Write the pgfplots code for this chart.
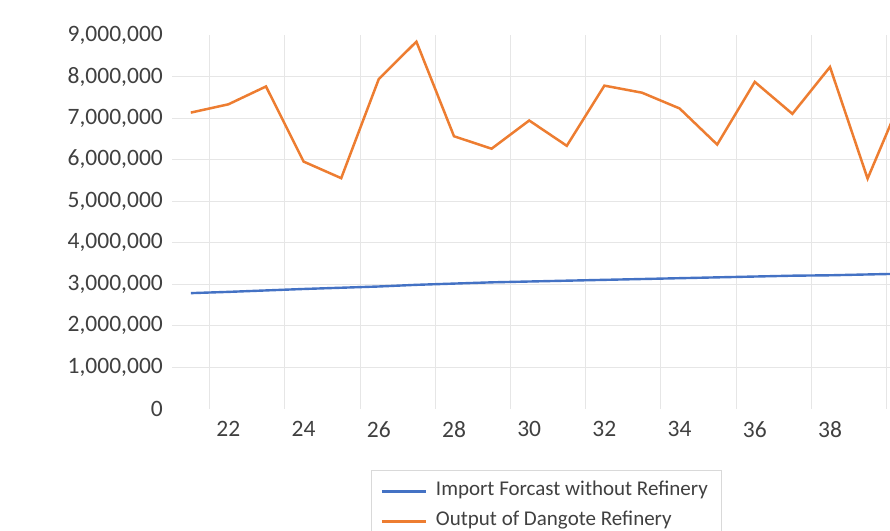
\documentclass[border=0pt]{standalone}
\usepackage{fontspec}
\setmainfont{Carlito}
\usepackage{pgfplots}
\pgfplotsset{compat=1.18}
\definecolor{xlblue}{HTML}{4472C4}
\definecolor{xlorange}{HTML}{ED7D31}
\definecolor{gridc}{HTML}{E6E6E6}
\definecolor{legc}{HTML}{D9D9D9}
\definecolor{txt}{HTML}{404040}
\begin{document}
\begin{tikzpicture}
\useasboundingbox (-172bp,-122.5bp) rectangle (718bp,408.5bp);
\clip (-172bp,-122.5bp) rectangle (718bp,408.5bp);
\begin{axis}[
  at={(0,0)}, anchor=south west,
  scale only axis, width=718bp, height=373.5bp,
  xmin=20.5, xmax=39.596, ymin=0, ymax=9000000,
  axis line style={draw=none},
  xtick={22,24,26,28,30,32,34,36,38},
  ytick={0,1000000,2000000,3000000,4000000,5000000,6000000,7000000,8000000,9000000},
  minor xtick={21.5,23.5,25.5,27.5,29.5,31.5,33.5,35.5,37.5,39.5},
  minor ytick={1000000,2000000,3000000,4000000,5000000,6000000,7000000,8000000},
  xminorgrids, yminorgrids,
  minor grid style={gridc, line width=0.9bp},
  major tick length=0pt, minor tick length=0pt,
  scaled y ticks=false, scaled x ticks=false,
  /pgf/number format/assume math mode=true,
  /pgf/number format/fixed,
  /pgf/number format/precision=0,
  /pgf/number format/1000 sep={,},
  tick label style={font=\fontsize{23.5bp}{28bp}\selectfont, text=txt},
  yticklabel style={anchor=east, inner sep=0pt, xshift=-9bp},
  xticklabel style={anchor=north, inner sep=0pt, yshift=-13bp},
  legend style={at={(0.2777,-0.1647)}, anchor=north west, draw=legc, line width=0.8bp,
    font=\fontsize{21bp}{25bp}\selectfont, text=txt, inner xsep=9bp, inner ysep=6bp,
    column sep=4bp,
    nodes={inner xsep=5bp, inner ysep=4.5bp, text height=15bp, text depth=6bp}},
  legend cell align=left,
  legend image code/.code={\draw[#1, line width=2.2bp] (0bp,0bp) -- (44bp,0bp);},
]
\addplot[xlblue, line width=2.4bp] coordinates {
(21,2780000) (22,2810000) (23,2845000) (24,2880000) (25,2910000)
(26,2940000) (27,2980000) (28,3010000) (29,3040000) (30,3060000)
(31,3080000) (32,3100000) (33,3120000) (34,3140000) (35,3160000)
(36,3180000) (37,3200000) (38,3210000) (39,3230000) (40,3250000)};
\addlegendentry{Import Forcast without Refinery}
\addplot[xlorange, line width=2.5bp] coordinates {
(21,7130000) (22,7330000) (23,7760000) (24,5950000) (25,5550000)
(26,7940000) (27,8840000) (28,6560000) (29,6260000) (30,6940000)
(31,6330000) (32,7780000) (33,7610000) (34,7230000) (35,6360000)
(36,7870000) (37,7100000) (38,8230000) (39,5540000) (40,7680000)};
\addlegendentry{Output of Dangote Refinery}
\end{axis}
\end{tikzpicture}
\end{document}
